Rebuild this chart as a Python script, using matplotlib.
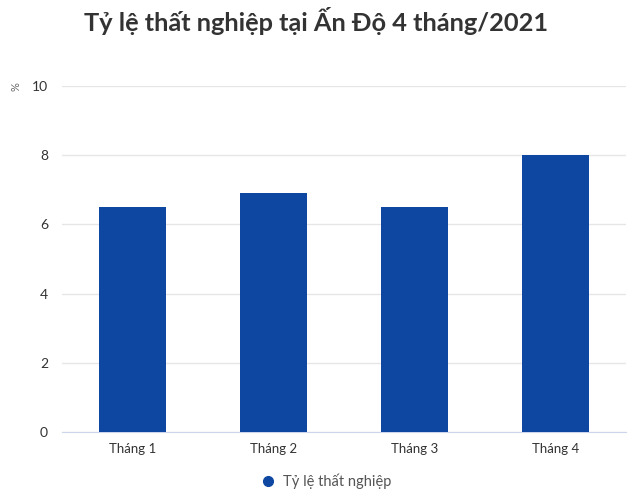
import matplotlib.pyplot as plt
from matplotlib.lines import Line2D

plt.rcParams['font.family'] = ['Lato', 'DejaVu Sans']

# data
months = ["Tháng 1", "Tháng 2", "Tháng 3", "Tháng 4"]
rates = [6.5, 6.9, 6.5, 8.0]
y_ticks = [0, 2, 4, 6, 8, 10]

bar_color = "#0d47a1"

fig = plt.figure(figsize=(6.32, 4.97), dpi=100)
ax = fig.add_axes([0.098, 0.131, 0.892, 0.696])

x = range(len(months))
ax.bar(x, rates, width=0.475, color=bar_color, zorder=3)

ax.set_xlim(-0.5, len(months) - 0.5)
ax.set_ylim(0, 10)
ax.set_yticks(y_ticks)
ax.set_xticks(list(x))
ax.set_xticklabels(months)
ax.grid(axis='y', color='#e6e6e6', lw=1, zorder=0)

for s in ['top', 'right', 'left']:
    ax.spines[s].set_visible(False)
ax.spines['bottom'].set_color('#ccd6eb')
ax.tick_params(axis='x', length=0, pad=8, labelsize=9.5, labelcolor='#333333')
ax.tick_params(axis='y', length=0, pad=10, labelsize=10, labelcolor='#333333')

# unit label, rotated, left of the "10" tick
fig.text(16 / 632, 1 - 87 / 497, '%', rotation=90, ha='center', va='center',
         fontsize=8, color='#666666')

fig.text(0.5, 0.958, "Tỷ lệ thất nghiệp tại Ấn Độ 4 tháng/2021",
         ha='center', va='center', fontsize=18.3, fontweight='bold', color='#333333')

handle = Line2D([], [], marker='o', ls='', color=bar_color, markersize=7)
fig.legend([handle], ["Tỷ lệ thất nghiệp"], loc='center', bbox_to_anchor=(0.51, 0.031),
           frameon=False, fontsize=10.5, labelcolor='#555555', handletextpad=0.0)

plt.savefig("out.png", dpi=100)
